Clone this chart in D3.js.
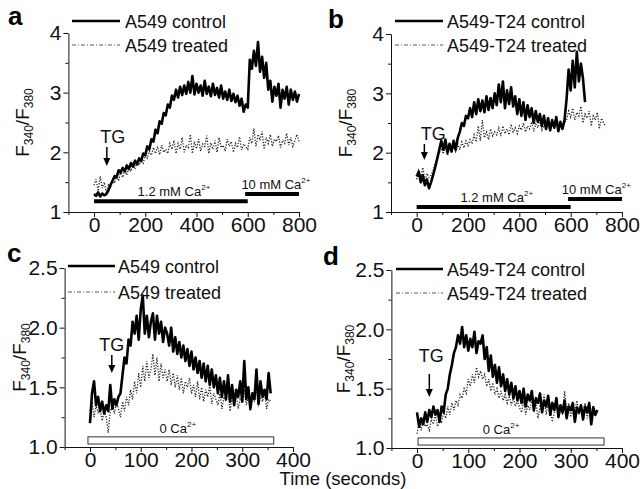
<!DOCTYPE html>
<html><head><meta charset="utf-8">
<script src="https://cdn.jsdelivr.net/npm/d3@7"></script>
<style>body{margin:0;background:#fff}svg{display:block;font-family:"Liberation Sans",Arial,sans-serif}</style>
</head><body><svg id="c" width="640" height="489"></svg>
<script>
// ---------- DATA ----------
const stepAB = 8;   // seconds between samples, panels a,b
const stepCD = 4;   // seconds between samples, panels c,d

const aControl = [1.30,1.27,1.33,1.26,1.31,1.28,1.30,
 1.36,1.45,1.52,1.60,1.58,1.70,1.66,1.74,1.68,1.78,1.72,1.82,1.76,1.86,1.80,1.90,1.85,1.98,1.95,2.10,2.05,2.22,2.18,2.38,2.32,2.52,2.48,2.66,2.62,2.80,2.75,2.95,2.88,3.05,2.92,3.10,2.96,3.12,2.98,3.18,3.00,3.28,2.97,3.15,3.00,3.12,2.95,3.20,2.98,3.10,2.94,3.15,2.96,3.08,2.92,3.12,2.90,3.02,2.88,3.05,2.86,2.98,2.84,2.95,2.78,2.90,2.68,2.80,2.75,
 3.55,3.40,3.70,3.45,3.85,3.35,3.60,3.25,3.50,3.05,3.20,2.85,3.10,2.95,3.15,2.75,3.05,2.90,3.10,2.80,3.05,2.88,3.02,2.85,2.98];
const aTreated = [1.45,1.55,1.35,1.60,1.40,1.50,1.32,1.45,
 1.40,1.55,1.48,1.62,1.52,1.68,1.58,1.72,1.62,1.75,1.68,1.80,1.72,1.85,1.78,1.88,1.82,1.95,
 1.90,2.02,1.95,2.08,1.98,2.10,1.96,2.12,2.00,2.05,1.98,2.15,
 2.05,2.20,1.98,2.15,2.05,2.25,2.00,2.12,2.08,2.30,1.98,2.18,2.06,2.22,2.02,2.14,2.10,2.28,1.98,2.16,2.05,2.20,2.00,2.25,2.08,2.12,2.02,2.22,2.10,2.18,2.00,2.15,2.08,2.26,2.04,2.14,2.10,2.05,
 2.25,2.15,2.40,2.10,2.30,2.20,2.35,2.05,2.25,2.15,2.30,2.10,2.22,2.18,2.28,2.08,2.20,2.15,2.32,2.12,2.25,2.10,2.20,2.30,2.18];

const bControl = [1.60,1.68,1.50,1.62,1.45,1.55,1.40,1.50,
 1.62,1.75,1.90,2.05,2.20,
 2.05,2.22,2.00,2.15,2.02,2.20,2.05,2.25,
 2.35,2.50,2.45,2.62,2.58,
 2.75,2.60,2.85,2.65,2.90,2.70,2.88,2.68,2.95,2.72,2.92,2.75,3.00,
 2.80,3.15,2.85,3.20,2.75,3.05,2.82,3.10,2.78,
 2.95,2.65,2.90,2.62,2.85,2.55,2.80,2.60,2.75,2.50,2.70,2.52,2.65,
 2.45,2.62,2.40,2.58,2.38,2.55,2.42,2.60,2.36,2.52,2.40,2.55,
 2.90,3.40,3.05,3.55,3.10,3.70,3.20,3.50,3.25,2.85];
const bTreated = [1.55,1.70,1.60,1.75,1.52,1.65,1.58,1.62,
 1.70,1.82,1.90,2.00,2.05,
 1.98,2.10,1.95,2.08,2.00,2.12,2.02,2.15,2.05,2.18,2.08,2.20,2.12,
 2.22,2.15,2.30,2.18,2.45,2.20,2.55,2.25,2.35,2.22,2.40,2.28,2.35,
 2.30,2.42,2.28,2.45,2.32,2.40,2.30,2.48,2.35,2.42,2.32,2.45,
 2.38,2.50,2.35,2.45,2.40,2.52,2.36,2.48,2.42,2.55,2.38,2.46,2.40,2.52,2.35,2.48,2.42,2.50,2.38,2.46,2.44,2.50,
 2.55,2.70,2.60,2.75,2.55,2.68,2.62,2.78,2.50,2.65,2.58,2.70,2.45,2.62,2.55,2.68,2.40,2.58,2.50,2.45];

const cControl = [1.20,1.45,1.55,1.35,1.42,1.30,1.38,1.28,1.35,1.30,1.52,1.32,1.40,1.35,1.42,
 1.45,1.60,1.75,1.70,1.90,1.85,2.05,1.95,
 2.10,1.90,2.15,2.27,1.95,2.10,1.92,2.05,2.12,1.90,2.10,1.95,2.05,1.88,2.00,
 1.95,1.85,2.00,1.80,1.92,1.78,1.88,1.75,1.85,1.72,1.82,1.68,1.80,1.65,1.75,1.62,1.72,1.58,1.70,1.55,1.68,1.52,1.65,1.50,1.60,
 1.45,1.58,1.42,1.55,1.40,1.60,1.38,1.52,1.35,1.48,1.42,1.55,1.38,1.72,1.40,1.50,1.32,1.45,1.40,1.65,1.36,1.55,1.42,1.48,1.40,1.62,1.45];
const cTreated = [1.30,1.38,1.25,1.35,1.28,1.32,1.22,1.30,1.25,1.12,1.30,1.35,1.28,1.38,1.32,
 1.25,1.38,1.30,1.42,1.35,1.48,1.40,1.55,
 1.45,1.62,1.50,1.68,1.55,1.72,1.58,1.65,1.78,1.60,1.75,1.55,1.70,1.58,1.65,
 1.55,1.65,1.52,1.62,1.50,1.60,1.48,1.58,1.45,1.55,1.50,1.58,1.45,1.52,1.42,1.55,1.40,1.50,1.38,1.48,1.42,1.52,1.36,1.45,1.40,
 1.35,1.45,1.32,1.42,1.38,1.48,1.30,1.42,1.36,1.45,1.32,1.40,1.38,1.48,1.35,1.42,1.30,1.45,1.38,1.50,1.34,1.42,1.38,1.46,1.32,1.40,1.38];

const dControl = [1.30,1.18,1.25,1.20,1.30,1.22,1.32,1.26,1.35,1.28,1.32,1.22,
 1.35,1.30,1.45,1.50,1.62,1.70,1.80,1.85,1.95,1.88,
 2.02,1.85,1.95,1.82,1.92,1.85,1.98,1.80,1.90,1.88,1.95,
 1.75,1.85,1.65,1.78,1.60,1.70,1.55,1.68,1.52,1.62,1.48,1.58,1.45,1.55,1.42,1.52,1.40,1.48,
 1.38,1.50,1.35,1.45,1.40,1.48,1.32,1.42,1.38,1.46,1.30,1.40,1.35,1.44,1.28,1.38,1.32,1.42,1.26,1.36,1.30,1.40,1.25,1.35,1.32,1.38,1.22,1.34,1.30,1.36,1.24,1.35,1.30,1.38,1.20,1.34,1.28,1.32];
const dTreated = [1.12,1.22,1.15,1.25,1.18,1.20,1.15,1.24,1.20,1.28,1.18,1.25,
 1.22,1.30,1.25,1.35,1.28,1.38,1.32,1.40,1.36,1.45,
 1.42,1.50,1.46,1.58,1.52,1.62,1.55,1.68,1.60,1.65,1.58,
 1.62,1.52,1.58,1.48,1.55,1.45,1.50,1.42,1.48,1.40,1.45,1.38,1.44,1.36,1.42,1.35,1.40,1.34,
 1.30,1.40,1.28,1.36,1.32,1.42,1.30,1.38,1.25,1.35,1.32,1.45,1.28,1.38,1.34,1.22,1.30,1.42,1.32,1.36,1.28,1.48,1.30,1.38,1.26,1.34,1.32,1.40,1.28,1.35,1.30,1.38,1.25,1.34,1.30,1.36,1.28,1.32];

const panelLetters = ["a","b","c","d"];
const legendNames = [["A549 control","A549 treated"],["A549-T24 control","A549-T24 treated"],
                     ["A549 control","A549 treated"],["A549-T24 control","A549-T24 treated"]];
const xTicksAB = [-100,0,100,200,300,400,500,600,700,800];
const xLabelsAB = [0,200,400,600,800];
const xTicksCD = [-50,0,50,100,150,200,250,300,350,400];
const xLabelsCD = [0,100,200,300,400];
const yTicksAB = [1,1.5,2,2.5,3,3.5,4];
const yLabelsAB = [1,2,3,4];
const yTicksCD = [1,1.25,1.5,1.75,2,2.25,2.5];
const yLabelsCD = [1,1.5,2,2.5];
const tgTimes = [50,30,43,24];
// Ca2+ bars: [start s, end s, level]
const caBarsA = [[0,600,1.18,"1.2 mM Ca"],[590,800,1.30,"10 mM Ca"]];
const caBarsB = [[0,600,1.085,"1.2 mM Ca"],[590,800,1.22,"10 mM Ca"]];
const caBoxC = [-4,362,1.025,1.085,"0 Ca"];
const caBoxD = [2,365,1.025,1.085,"0 Ca"];

// ---------- LAYOUT ----------
const FONT = '"Liberation Sans",Arial,sans-serif';
const panels = [
 {ctrl:aControl, trt:aTreated, step:stepAB, xDom:[-100,800], xR:[68.4,299], yDom:[1,4], yR:[212,33],
  xT:xTicksAB, xL:xLabelsAB, yT:yTicksAB, yL:yLabelsAB, yFmt:d3.format("d"),
  letter:[8,25], ytx:29, leg:{x1:72,x2:120,y1:21,y2:45,tx:125},
  tg:{dx:6, base:143, top:147, tip:166}, bars:caBarsA, labelPos:[[312,5],[710,5]]},
 {ctrl:bControl, trt:bTreated, step:stepAB, xDom:[-100,800], xR:[391,622], yDom:[1,4], yR:[212,34],
  xT:xTicksAB, xL:xLabelsAB, yT:yTicksAB, yL:yLabelsAB, yFmt:d3.format("d"),
  letter:[328,28], ytx:352, leg:{x1:395,x2:443,y1:21,y2:45,tx:447},
  tg:{dx:9, base:140, top:144, tip:160}, bars:caBarsB, labelPos:[[312,5],[700,5]]},
 {ctrl:cControl, trt:cTreated, step:stepCD, xDom:[-50,400], xR:[64.6,293], yDom:[1,2.5], yR:[447,268],
  xT:xTicksCD, xL:xLabelsCD, yT:yTicksCD, yL:yLabelsCD, yFmt:d3.format(".1f"),
  letter:[7,262], ytx:26, leg:{x1:68,x2:115,y1:266,y2:292,tx:118},
  tg:{dx:0, base:351, top:355, tip:373}, box:caBoxC, labelPos:[[173,4]]},
 {ctrl:dControl, trt:dTreated, step:stepCD, xDom:[-50,400], xR:[391.4,622], yDom:[1,2.5], yR:[448,270],
  xT:xTicksCD, xL:xLabelsCD, yT:yTicksCD, yL:yLabelsCD, yFmt:d3.format(".1f"),
  letter:[323,265], ytx:350, leg:{x1:396,x2:443,y1:269,y2:293,tx:447},
  tg:{dx:2, base:362, top:374, tip:397}, box:caBoxD, labelPos:[[164,4]]}
];

const svg = d3.select("#c");

function caText(g, x, yb, label, fs) {
  const t = g.append("text").attr("x", x).attr("y", yb).attr("text-anchor","middle")
    .attr("font-size", fs).attr("font-family", FONT).attr("fill","#111");
  t.append("tspan").text(label);
  t.append("tspan").attr("font-size", 8).attr("dy", -6).text("2+");
}

panels.forEach((p, i) => {
  const x = d3.scaleLinear().domain(p.xDom).range(p.xR);
  const y = d3.scaleLinear().domain(p.yDom).range(p.yR);
  const g = svg.append("g");

  // axes
  const xa = d3.axisBottom(x).tickValues(p.xT).tickSize(5).tickSizeOuter(0).tickPadding(0)
    .tickFormat(d => p.xL.includes(d) ? d : "");
  const gx = g.append("g").attr("transform", `translate(0,${p.yR[0]})`).call(xa);
  gx.selectAll(".tick").filter(d => !p.xL.includes(d)).select("line").attr("y2", 3);
  gx.attr("font-size", 21).attr("font-family", FONT);

  const ya = d3.axisLeft(y).tickValues(p.yT).tickSize(5).tickSizeOuter(0).tickPadding(2)
    .tickFormat(d => p.yL.includes(d) ? p.yFmt(d) : "");
  const gy = g.append("g").attr("transform", `translate(${p.xR[0]},0)`).call(ya);
  gy.selectAll(".tick").filter(d => !p.yL.includes(d)).select("line").attr("x2", -3);
  gy.attr("font-size", 21).attr("font-family", FONT);
  g.selectAll(".domain, .tick line").attr("stroke", "#111");
  g.selectAll(".tick text").attr("fill", "#111");

  // y title
  const yt = g.append("text")
    .attr("transform", `translate(${p.ytx},${(p.yR[0]+p.yR[1])/2}) rotate(-90)`)
    .attr("text-anchor","middle").attr("font-size", 19).attr("font-family", FONT).attr("fill","#111");
  yt.append("tspan").text("F");
  yt.append("tspan").attr("font-size", 12).attr("dy", 4).text("340");
  yt.append("tspan").attr("dy", -4).text("/F");
  yt.append("tspan").attr("font-size", 12).attr("dy", 4).text("380");

  // panel letter
  g.append("text").attr("x", p.letter[0]).attr("y", p.letter[1]).attr("font-size", 26)
    .attr("font-weight","bold").attr("font-family", FONT).text(panelLetters[i]);

  // traces
  const line = d3.line().x((d, k) => x(k * p.step)).y(d => y(d));
  g.append("path").datum(p.trt).attr("d", line).attr("fill","none")
    .attr("stroke","#222").attr("stroke-width",1.3).attr("stroke-dasharray","1.2,1.6");
  g.append("path").datum(p.ctrl).attr("d", line).attr("fill","none")
    .attr("stroke","#000").attr("stroke-width",2.6).attr("stroke-linejoin","round");

  // legend
  const L = p.leg;
  g.append("line").attr("x1",L.x1).attr("x2",L.x2).attr("y1",L.y1).attr("y2",L.y1)
    .attr("stroke","#000").attr("stroke-width",2.7);
  g.append("line").attr("x1",L.x1).attr("x2",L.x2).attr("y1",L.y2).attr("y2",L.y2)
    .attr("stroke","#555").attr("stroke-width",1).attr("stroke-dasharray","4,2,1,2");
  g.append("text").attr("x",L.tx).attr("y",L.y1+6.5).attr("font-size",18).attr("font-family",FONT)
    .attr("fill","#111").text(legendNames[i][0]);
  g.append("text").attr("x",L.tx).attr("y",L.y2+6.5).attr("font-size",18).attr("font-family",FONT)
    .attr("fill","#111").text(legendNames[i][1]);

  // TG arrow
  const ax = x(tgTimes[i]);
  g.append("text").attr("x", ax + p.tg.dx).attr("y", p.tg.base).attr("text-anchor","middle")
    .attr("font-size",18).attr("font-family",FONT).attr("fill","#111").text("TG");
  g.append("line").attr("x1",ax).attr("x2",ax).attr("y1",p.tg.top).attr("y2",p.tg.tip-6)
    .attr("stroke","#000").attr("stroke-width",1.5);
  g.append("path").attr("d", `M${ax-3.5},${p.tg.tip-8}L${ax+3.5},${p.tg.tip-8}L${ax},${p.tg.tip}Z`).attr("fill","#000");

  // Ca2+ bars
  if (p.bars) {
    p.bars.forEach((b, k) => {
      g.append("line").attr("x1", x(b[0])).attr("x2", x(b[1])).attr("y1", y(b[2])).attr("y2", y(b[2]))
        .attr("stroke","#000").attr("stroke-width",4);
      caText(g, x(p.labelPos[k][0]), y(b[2]) - p.labelPos[k][1], b[3], 13);
    });
  }
  if (p.box) {
    const b = p.box;
    g.append("rect").attr("x", x(b[0])).attr("y", y(b[3])).attr("width", x(b[1]) - x(b[0]))
      .attr("height", y(b[2]) - y(b[3])).attr("fill","#fff").attr("stroke","#333").attr("stroke-width",1);
    caText(g, x(p.labelPos[0][0]), y(b[3]) - p.labelPos[0][1], b[4], 13);
  }
});

// shared x title
svg.append("text").attr("x", 343).attr("y", 485).attr("text-anchor","middle")
  .attr("font-size", 18.5).attr("font-family", FONT).attr("fill","#111").text("Time (seconds)");
</script>
</body></html>
